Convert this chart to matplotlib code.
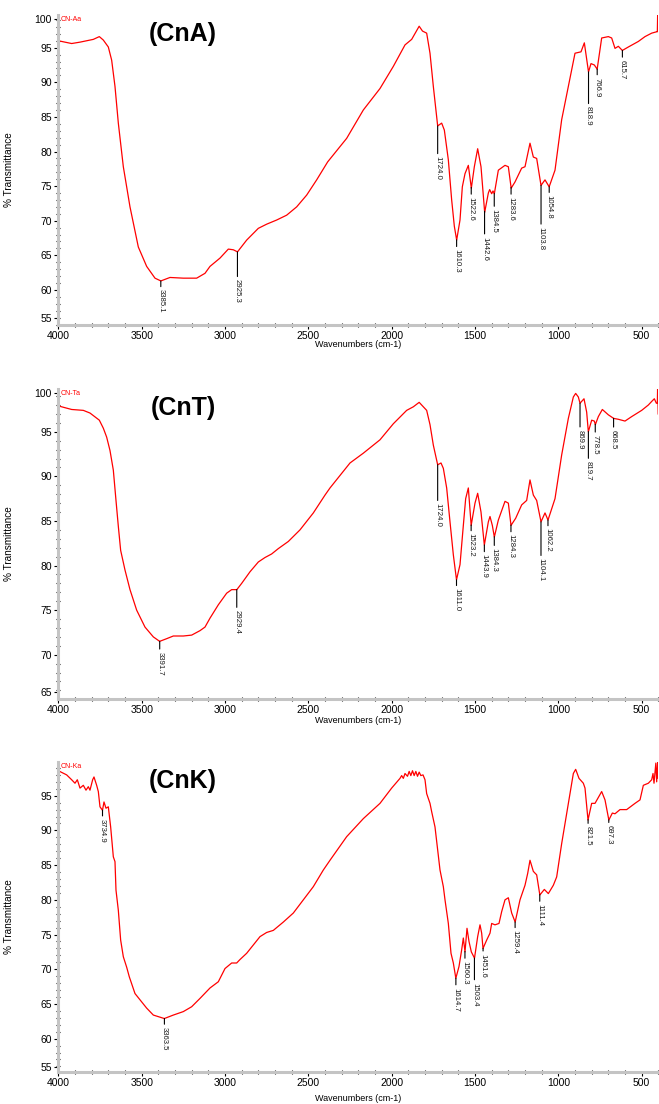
import numpy as np
import matplotlib.pyplot as plt
from matplotlib.ticker import MultipleLocator

plt.rcParams['font.family'] = ['Liberation Sans', 'DejaVu Sans']

# ---- CnA ----
wn_a = [4000, 3960, 3920, 3870, 3830, 3790, 3754, 3730, 3700, 3680,
        3660, 3640, 3610, 3570, 3520, 3470, 3420, 3385, 3330, 3250,
        3170, 3120, 3090, 3030, 2980, 2950, 2925, 2870, 2800, 2750,
        2690, 2630, 2570, 2510, 2450, 2384, 2270, 2170, 2070, 1990,
        1920, 1880, 1835, 1815, 1790, 1770, 1750, 1724, 1700, 1684,
        1660, 1640, 1624, 1610, 1590, 1576, 1560, 1540, 1522, 1504,
        1484, 1464, 1442, 1420, 1412, 1400, 1392, 1384, 1360, 1320,
        1300, 1283, 1260, 1220, 1200, 1170, 1150, 1130, 1104, 1080,
        1055, 1020, 980, 940, 900, 864, 844, 819, 804, 784,
        767, 740, 700, 680, 660, 640, 616, 580, 520, 480,
        440, 410, 406, 404, 400]
t_a = [96.0, 95.8, 95.6, 95.8, 96.0, 96.2, 96.6, 96.1, 95.1, 93.2,
       89.4, 84.1, 77.8, 72.0, 66.2, 63.4, 61.7, 61.3, 61.8, 61.7,
       61.7, 62.4, 63.4, 64.6, 65.9, 65.8, 65.5, 67.2, 68.9, 69.5,
       70.1, 70.8, 72.0, 73.7, 75.9, 78.5, 81.9, 86.0, 89.1, 92.3,
       95.4, 96.2, 98.1, 97.4, 97.1, 94.2, 89.4, 83.7, 84.1, 83.1,
       78.8, 73.0, 69.2, 67.2, 70.1, 74.9, 76.8, 78.0, 74.7, 77.8,
       80.4, 77.8, 71.2, 74.0, 74.5, 73.9, 74.3, 73.9, 77.3, 78.0,
       77.8, 74.7, 75.6, 77.6, 77.8, 81.2, 79.2, 79.0, 75.1, 75.9,
       74.9, 77.3, 84.6, 89.4, 94.2, 94.4, 95.7, 91.5, 92.7, 92.5,
       91.9, 96.4, 96.6, 96.4, 94.9, 95.2, 94.6, 95.1, 95.9, 96.6,
       97.1, 97.3, 97.3, 100.0, 98.5]
peaks_a = [3385.1, 2925.3, 1724.0, 1610.3, 1522.6, 1442.6, 1384.5, 1283.6,
           1103.8, 1054.8, 818.9, 766.9, 615.7]

# ---- CnT ----
wn_b = [4000, 3960, 3920, 3850, 3810, 3754, 3730, 3710, 3690, 3670,
        3654, 3640, 3626, 3600, 3570, 3530, 3480, 3430, 3392, 3350,
        3310, 3250, 3200, 3150, 3120, 3090, 3040, 2990, 2960, 2929,
        2900, 2850, 2800, 2760, 2720, 2680, 2620, 2550, 2470, 2400,
        2370, 2250, 2170, 2070, 1990, 1910, 1870, 1835, 1790, 1770,
        1750, 1724, 1704, 1690, 1670, 1650, 1630, 1611, 1590, 1570,
        1556, 1540, 1523, 1500, 1484, 1464, 1444, 1420, 1410, 1396,
        1384, 1360, 1320, 1300, 1284, 1256, 1220, 1190, 1170, 1150,
        1130, 1104, 1080, 1062, 1020, 980, 940, 910, 896, 880,
        870, 846, 830, 820, 800, 784, 778, 760, 736, 700,
        668, 640, 600, 560, 500, 460, 440, 424, 412, 406,
        404, 401]
t_b = [97.9, 97.7, 97.5, 97.4, 97.1, 96.3, 95.4, 94.4, 92.9, 90.7,
       87.3, 84.4, 81.7, 79.5, 77.3, 75.0, 73.1, 72.0, 71.5, 71.8,
       72.1, 72.1, 72.2, 72.7, 73.1, 74.1, 75.6, 76.9, 77.3, 77.3,
       78.0, 79.3, 80.4, 80.9, 81.3, 81.9, 82.7, 84.0, 85.9, 87.9,
       88.7, 91.5, 92.6, 94.1, 95.9, 97.4, 97.8, 98.3, 97.4, 95.8,
       93.5, 91.3, 91.5, 90.9, 88.7, 84.9, 81.2, 78.4, 80.1, 84.5,
       87.5, 88.7, 84.5, 87.0, 88.1, 86.0, 82.3, 84.9, 85.5, 84.5,
       83.2, 85.1, 87.2, 87.0, 84.5, 85.3, 86.8, 87.3, 89.6, 87.9,
       87.3, 84.9, 85.9, 85.1, 87.5, 92.4, 96.5, 98.9, 99.3, 98.9,
       98.2, 98.7, 97.2, 95.0, 96.3, 96.2, 95.8, 96.7, 97.5, 96.9,
       96.5, 96.4, 96.2, 96.7, 97.4, 98.0, 98.4, 98.7, 98.2, 98.2,
       100.3, 97.0]
peaks_b = [3391.7, 2929.4, 1724.0, 1611.0, 1523.2, 1443.9, 1384.3, 1284.3,
           1104.1, 1062.2, 869.9, 819.7, 778.5, 668.5]

# ---- CnK ----
wn_c = [4000, 3950, 3920, 3900, 3886, 3870, 3850, 3834, 3820, 3810,
        3794, 3786, 3770, 3760, 3750, 3735, 3726, 3714, 3700, 3686,
        3670, 3660, 3654, 3640, 3626, 3610, 3590, 3574, 3560, 3540,
        3510, 3470, 3430, 3364, 3310, 3250, 3200, 3150, 3090, 3040,
        3000, 2960, 2930, 2910, 2870, 2830, 2790, 2750, 2710, 2650,
        2590, 2530, 2470, 2410, 2370, 2270, 2170, 2070, 2000, 1950,
        1940, 1930, 1920, 1905, 1895, 1885, 1875, 1865, 1855, 1845,
        1835, 1825, 1812, 1800, 1790, 1770, 1760, 1740, 1724, 1710,
        1690, 1680, 1660, 1644, 1630, 1615, 1596, 1580, 1570, 1560,
        1548, 1536, 1522, 1503, 1484, 1470, 1460, 1452, 1430, 1410,
        1400, 1380, 1356, 1340, 1320, 1300, 1280, 1259, 1230, 1200,
        1184, 1170, 1150, 1130, 1111, 1084, 1060, 1030, 1010, 980,
        940, 910, 896, 876, 850, 840, 822, 800, 780, 740,
        720, 697, 676, 660, 630, 590, 540, 510, 490, 460,
        440, 432, 426, 415, 410, 404, 401]
t_c = [98.6, 98.0, 97.3, 96.8, 97.3, 96.1, 96.5, 95.8, 96.3, 95.8,
       97.3, 97.7, 96.5, 95.6, 93.4, 92.9, 94.1, 93.2, 93.4, 90.5,
       86.2, 85.5, 81.4, 78.5, 74.2, 71.8, 70.3, 68.9, 67.9, 66.5,
       65.6, 64.4, 63.4, 62.9, 63.4, 63.9, 64.6, 65.8, 67.3, 68.2,
       70.1, 70.9, 70.9, 71.4, 72.3, 73.5, 74.7, 75.3, 75.6, 76.8,
       78.1, 80.0, 81.9, 84.3, 85.7, 89.1, 91.7, 93.9, 96.1, 97.5,
       97.9, 97.5, 98.2, 97.8, 98.5, 97.9, 98.6, 97.9, 98.5, 97.8,
       98.4, 97.9, 98.0, 97.3, 95.3, 93.9, 92.7, 90.5, 87.2, 84.3,
       81.9, 80.0, 76.6, 72.3, 70.9, 68.7, 70.4, 72.8, 74.5, 72.5,
       75.9, 74.0, 72.5, 71.6, 74.7, 76.4, 75.2, 73.0, 74.2, 75.2,
       76.6, 76.4, 76.6, 78.3, 80.0, 80.3, 78.1, 76.8, 80.0, 82.1,
       83.8, 85.7, 84.1, 83.6, 80.7, 81.5, 80.9, 82.1, 83.3, 88.1,
       93.9, 98.2, 98.8, 97.5, 96.8, 96.1, 91.5, 93.9, 93.9, 95.6,
       94.4, 91.5, 92.5, 92.4, 93.0, 93.0, 93.9, 94.4, 96.5, 96.8,
       97.3, 98.2, 96.8, 99.7, 97.0, 99.9, 97.5]
peaks_c = [3734.9, 3363.5, 1614.7, 1560.3, 1503.4, 1451.6, 1259.4, 1111.4,
           821.5, 697.3]

# y tick labels; the end labels sit a little inside the axis ends (OMNIC style)
yt_a = [55.98, 60, 65, 70, 75, 80, 85, 90, 95, 99.15]
ytl_a = ['55', '60', '65', '70', '75', '80', '85', '90', '95', '100']
yt_b = [65.78, 70, 75, 80, 85, 90, 95, 99.3]
ytl_b = ['65', '70', '75', '80', '85', '90', '95', '100']
yt_c = [55.95, 60, 65, 70, 75, 80, 85, 90, 95]
ytl_c = ['55', '60', '65', '70', '75', '80', '85', '90', '95']

# peak marker line lengths (pixels)
leads_a = [7, 26, 29, 8, 8, 24, 14, 8, 40, 7, 33, 7, 8]
leads_b = [9, 19, 37, 7, 7, 8, 10, 8, 35, 7, 25, 28, 9, 10]
leads_c = [7, 7, 8, 8, 23, 4, 7, 8, 5, 4]

panels = [
    (wn_a, t_a, peaks_a, leads_a, '(CnA)', 'CN-Aa', (54.93, 99.72), yt_a, ytl_a, -0.048),
    (wn_b, t_b, peaks_b, leads_b, '(CnT)', 'CN-Ta', (65.03, 99.79), yt_b, ytl_b, -0.055),
    (wn_c, t_c, peaks_c, leads_c, '(CnK)', 'CN-Ka', (55.2, 99.86), yt_c, ytl_c, -0.071),
]
rects = [[0.0885, 0.7056, 0.9105, 0.2808],
         [0.0885, 0.3668, 0.9105, 0.2808],
         [0.0885, 0.0290, 0.9105, 0.2808]]

fig = plt.figure(figsize=(6.59, 11.04), dpi=100)

for rect, (wn, t, peaks, leads, name, tag, ylim, yt, ytl, xl_y) in zip(rects, panels):
    ax = fig.add_axes(rect)
    ax.plot(wn, t, color='#ff0000', lw=0.9)
    ax.set_xlim(4000, 400)
    ax.set_ylim(*ylim)

    ax.xaxis.set_major_locator(MultipleLocator(500))
    ax.xaxis.set_minor_locator(MultipleLocator(100))
    ax.set_yticks(yt)
    ax.set_yticklabels(ytl)
    ax.yaxis.set_minor_locator(MultipleLocator(1))

    for s in ['top', 'right']:
        ax.spines[s].set_visible(False)
    for s in ['left', 'bottom']:
        ax.spines[s].set_color('#c4c4c4')
        ax.spines[s].set_linewidth(2.2)
    ax.tick_params(which='major', direction='out', length=3, width=0.8,
                   color='black', labelsize=7.5, pad=1.5)
    ax.tick_params(which='minor', direction='inout', length=2.2, width=0.8,
                   color='black')

    ax.set_xlabel('Wavenumbers (cm-1)', fontsize=6.5)
    ax.xaxis.set_label_coords(0.5, xl_y)
    ax.set_ylabel('% Transmittance', fontsize=7.2)
    ax.yaxis.set_label_coords(-0.0738, 0.5)

    ax.text(0.208, 0.938, name, transform=ax.transAxes, ha='center', va='center',
            fontsize=18, fontweight='bold')
    ax.text(0.004, 0.985, tag, transform=ax.transAxes, ha='left', va='center',
            fontsize=5, color='#ff0000')

    wr = np.array(wn)[::-1]
    tr = np.array(t)[::-1]
    for p, lead in zip(peaks, leads):
        tp = np.interp(p, wr, tr)
        ax.annotate(f'{p:.1f}', xy=(p, tp), xytext=(0, -(lead + 1.5)),
                    textcoords='offset pixels', rotation=270, ha='center', va='top',
                    fontsize=5.6, color='#1a1a1a',
                    arrowprops=dict(arrowstyle='-', lw=0.8, color='black',
                                    shrinkA=0, shrinkB=0))

fig.savefig('out.png', dpi=100)
